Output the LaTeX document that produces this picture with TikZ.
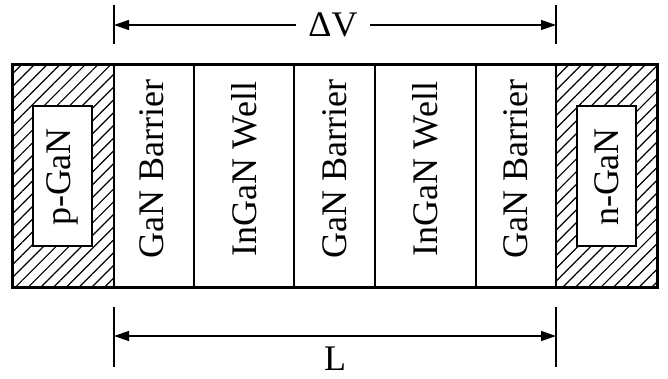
\documentclass[tikz,border=0pt]{standalone}
\usepackage{fontspec}
\setmainfont{Liberation Serif}
\usetikzlibrary{patterns.meta,arrows.meta}

\begin{document}
\begin{tikzpicture}[x=1pt,y=-1pt,
  layer/.style={rotate=90,font=\fontsize{36}{40}\selectfont},
  dimtext/.style={font=\fontsize{36}{40}\selectfont,inner xsep=12pt},
  dimline/.style={line width=1.3pt,-{Triangle[length=15pt,width=10pt]}},
  hatch/.style={pattern={Lines[angle=45,distance=9pt,line width=1.2pt]}}]
\useasboundingbox (0,0) rectangle (668,379);
% contact layers
\fill[hatch] (12,65) rectangle (114,287);
\fill[hatch] (556,65) rectangle (657,287);
\filldraw[fill=white,line width=1.3pt] (33,106) rectangle (92,246);
\filldraw[fill=white,line width=1.3pt] (577,106) rectangle (636,246);
\node[layer] (pgan) at (62.5,177) {p-GaN};
\node[layer] (ngan) at (606.5,177) {n-GaN};
% active region
\draw[line width=1.4pt] (194,65) -- (194,287);
\draw[line width=1.4pt] (294,65) -- (294,287);
\draw[line width=1.4pt] (375,65) -- (375,287);
\draw[line width=1.4pt] (476,65) -- (476,287);
\draw[line width=2.5pt] (114,65) -- (114,287);
\draw[line width=2.5pt] (556,65) -- (556,287);
\draw[line width=3pt] (12,65) rectangle (657,287);
\node[layer] (b1) at (152,169) {GaN Barrier};
\node[layer] (w1) at (244,169) {InGaN Well};
\node[layer] (b2) at (334.5,169) {GaN Barrier};
\node[layer] (w2) at (425.5,169) {InGaN Well};
\node[layer] (b3) at (516,169) {GaN Barrier};
% voltage
\draw[line width=1.3pt] (114,5) -- (114,44);
\draw[line width=1.3pt] (556,5) -- (556,44);
\coordinate (vl) at (114,25);
\coordinate (vr) at (556,25);
\node[dimtext] (dv) at (333,25) {ΔV};
\draw[dimline] (dv.west) -- (vl);
\draw[dimline] (dv.east) -- (vr);
% length
\draw[line width=1.3pt] (114,307) -- (114,367);
\draw[line width=1.3pt] (556,307) -- (556,367);
\coordinate (ll) at (114,336);
\coordinate (lr) at (556,336);
\draw[dimline,{Triangle[length=15pt,width=10pt]}-{Triangle[length=15pt,width=10pt]}] (ll) -- (lr);
\node[dimtext] (len) at (335,359) {L};
\end{tikzpicture}
\end{document}
